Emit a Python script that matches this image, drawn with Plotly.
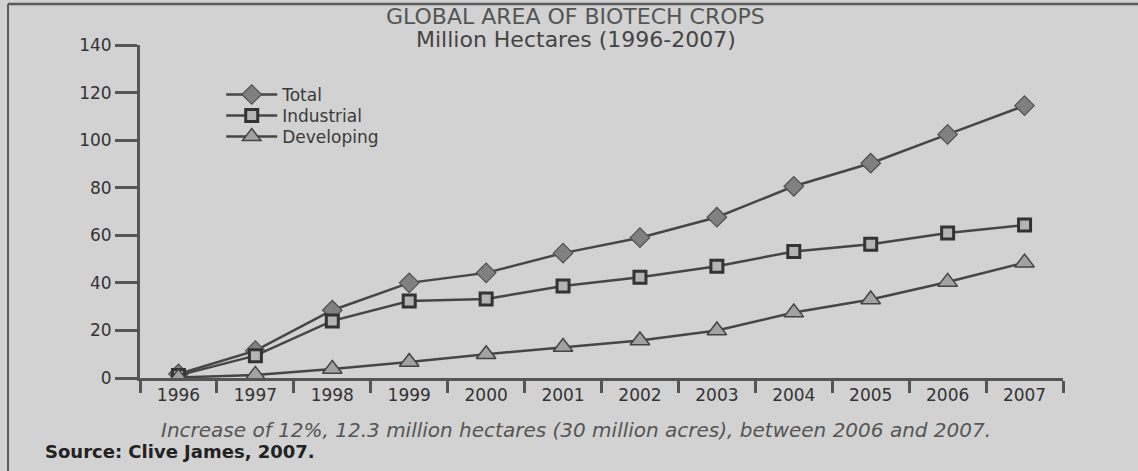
import plotly.graph_objects as go

# Global area of biotech crops, million hectares
years = ["1996", "1997", "1998", "1999", "2000", "2001",
         "2002", "2003", "2004", "2005", "2006", "2007"]
total = [1.7, 11.5, 28.5, 40.0, 44.2, 52.5, 59.0, 67.6, 80.6, 90.3, 102.4, 114.5]
industrial = [1.1, 9.4, 24.0, 32.4, 33.2, 38.7, 42.4, 47.0, 53.2, 56.2, 61.0, 64.3]
developing = [0.2, 1.3, 3.8, 6.7, 10.0, 13.0, 15.8, 20.0, 27.5, 33.0, 40.4, 48.5]
y_ticks = [0, 20, 40, 60, 80, 100, 120, 140]

BG = "#d2d2d2"
AXIS = "#555555"
LINE = "#464646"
FONT = "DejaVu Sans"

fig = go.Figure()

fig.add_trace(go.Scatter(
    x=years, y=total, name="Total", mode="lines+markers", legend="legend",
    line=dict(color=LINE, width=2.5),
    marker=dict(symbol="diamond", size=15, color="#808080",
                line=dict(color="#505050", width=1.2)),
))
fig.add_trace(go.Scatter(
    x=years, y=industrial, name="Industrial", mode="lines+markers", legend="legend2",
    line=dict(color=LINE, width=2.5),
    marker=dict(symbol="square", size=12, color="#b4b4b4",
                line=dict(color="#333333", width=3)),
))
fig.add_trace(go.Scatter(
    x=years, y=developing, name="Developing", mode="lines+markers", legend="legend3",
    line=dict(color=LINE, width=2.5),
    marker=dict(symbol="triangle-up", size=17, color="#a2a2a2",
                line=dict(color="#444444", width=1.5)),
))

# one legend box per series, stacked closely
legend_style = dict(
    xref="paper", yref="paper", x=0.088,
    xanchor="left", yanchor="middle",
    bgcolor="rgba(0,0,0,0)", itemwidth=51,
    font=dict(family=FONT, size=17, color="#3a3a3a"),
)

fig.update_layout(
    width=1138, height=471,
    margin=dict(l=140, r=75, t=45, b=93, autoexpand=False),
    paper_bgcolor=BG, plot_bgcolor=BG,
    font=dict(family=FONT, color="#333333", size=16),
    showlegend=True,
    legend=dict(legend_style, y=0.850),
    legend2=dict(legend_style, y=0.787),
    legend3=dict(legend_style, y=0.724),
    xaxis=dict(
        type="category", range=[-0.5, 11.5],
        showline=True, linecolor=AXIS, linewidth=3,
        ticks="outside", tickson="boundaries", ticklen=12, tickwidth=3,
        tickcolor=AXIS, showgrid=False, zeroline=False, tickangle=0,
        automargin=False,
        tickfont=dict(family=FONT, size=17, color="#333333"),
    ),
    yaxis=dict(
        range=[0, 140], tickvals=y_ticks,
        showline=True, linecolor=AXIS, linewidth=3,
        ticks="outside", ticklen=22, tickwidth=3, tickcolor=AXIS,
        showgrid=False, zeroline=False, automargin=False,
        tickfont=dict(family=FONT, size=17, color="#333333"),
    ),
    shapes=[
        # frame lines along the top and left edges
        dict(type="line", xref="paper", yref="paper",
             x0=-0.143, x1=1.1, y0=1.123, y1=1.123,
             line=dict(color="#5a5a5a", width=2.5)),
        dict(type="line", xref="paper", yref="paper",
             x0=-0.143, x1=-0.143, y0=1.123, y1=-0.3,
             line=dict(color="#5a5a5a", width=2)),
    ],
    annotations=[
        dict(text="GLOBAL AREA OF BIOTECH CROPS", xref="paper", yref="paper",
             x=0.472, y=1.085, xanchor="center", yanchor="middle", showarrow=False,
             font=dict(family=FONT, size=22, color="#555555")),
        dict(text="Million Hectares (1996-2007)", xref="paper", yref="paper",
             x=0.472, y=1.016, xanchor="center", yanchor="middle", showarrow=False,
             font=dict(family=FONT, size=22, color="#444444")),
        dict(text="<i>Increase of 12%, 12.3 million hectares (30 million acres), between 2006 and 2007.</i>",
             xref="paper", yref="paper", x=0.472, y=-0.156,
             xanchor="center", yanchor="middle", showarrow=False,
             font=dict(family=FONT, size=20, color="#555555")),
        dict(text="<b>Source: Clive James, 2007.</b>",
             xref="paper", yref="paper", x=-0.105, y=-0.222,
             xanchor="left", yanchor="middle", showarrow=False,
             font=dict(family=FONT, size=18, color="#222222")),
    ],
)

fig.write_html("out.html")
